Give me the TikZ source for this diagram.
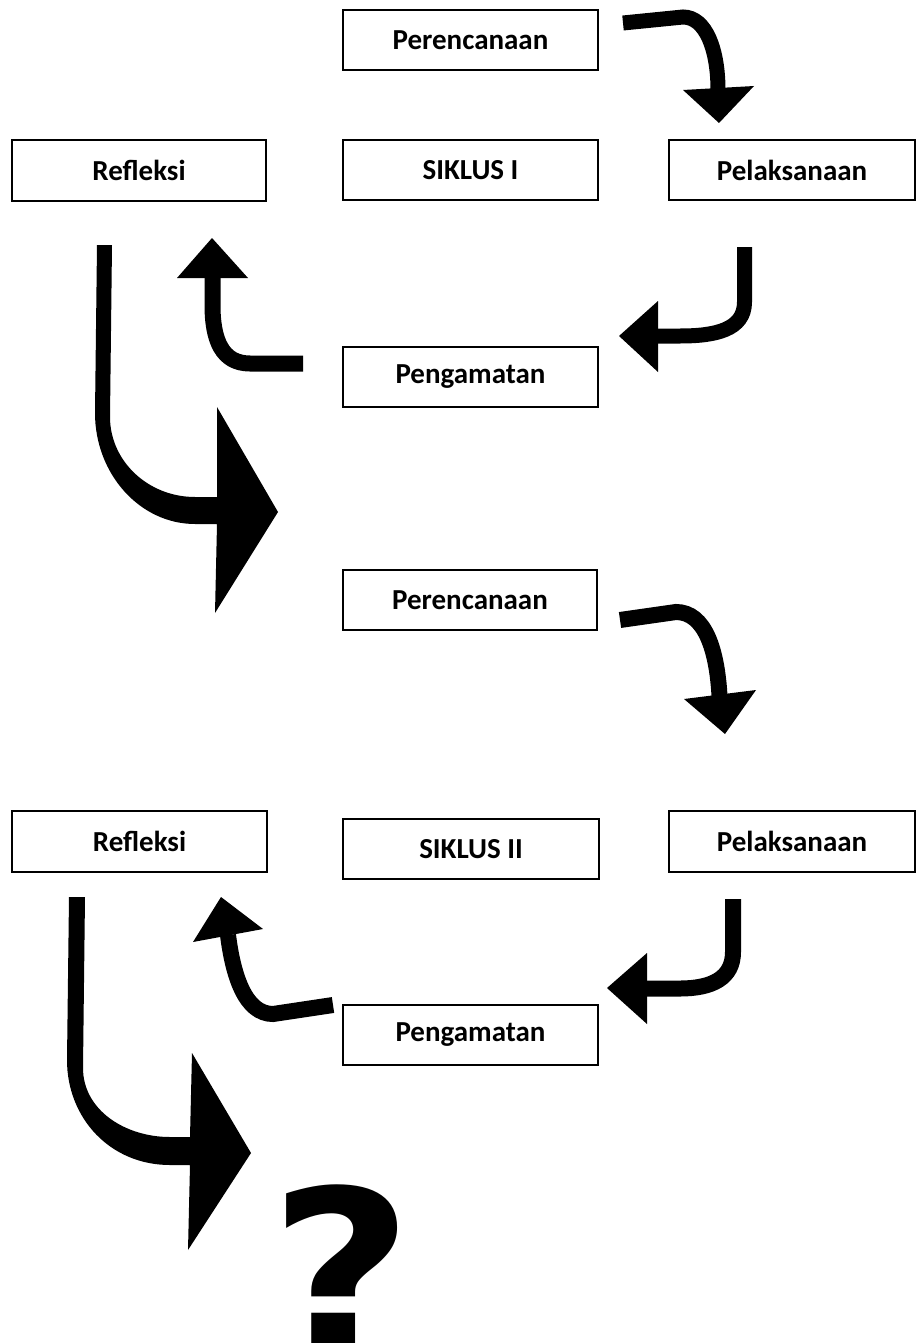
\documentclass[tikz,border=0pt]{standalone}
\usepackage{fontspec}
\usepackage{graphicx}
\setmainfont{Carlito}
\newfontfamily\qfont{DejaVu Sans}
\begin{document}
\begin{tikzpicture}[x=1pt,y=-1pt,
  box/.style={draw=black,line width=1.8pt,fill=white,rectangle,inner sep=0pt,
    minimum width=255pt,minimum height=60pt,font=\fontsize{29}{33}\selectfont\bfseries},
  shaft/.style={line width=15pt,black},
  head/.style={fill=black,draw=none}]
\useasboundingbox (0,0) rectangle (916,1343);
\clip (0,0) rectangle (916,1343);
\fill[white] (0,0) rectangle (916,1343);

% boxes, cycle I
\node[box] (per1) at (470.5,40) {Perencanaan};
\node[box,minimum width=254pt,minimum height=61pt] (ref1) at (139,170.5) {Refleksi};
\node[box] (sik1) at (470.5,170) {SIKLUS I};
\node[box,minimum width=246pt] (pel1) at (792,170) {Pelaksanaan};
\node[box] (pen1) at (470.5,377) {Pengamatan};
% boxes, cycle II
\node[box,minimum width=254pt] (per2) at (470,600) {Perencanaan};
\node[box,minimum height=61pt] (ref2) at (139.5,841.5) {Refleksi};
\node[box,minimum width=256pt] (sik2) at (471,849) {SIKLUS II};
\node[box,minimum width=246pt,minimum height=61pt] (pel2) at (792,841.5) {Pelaksanaan};
\node[box] (pen2) at (470.5,1035) {Pengamatan};

% arrow Perencanaan -> Pelaksanaan (I)
\draw[shaft] (623,23) -- (683,17) .. controls (706,17) and (718,50) .. (718,90);
\fill[head] (683,90) -- (754,86) -- (719,123) -- cycle;

% arrow Pelaksanaan -> Pengamatan (I)
\draw[shaft] (744.5,247) -- (744.5,302) .. controls (744.5,330) and (715,336) .. (680,336) -- (657,336);
\fill[head] (658,301) -- (658,372) -- (619,336) -- cycle;

% arrow Pengamatan -> Refleksi (I)
\draw[shaft,line width=16pt] (303,363.5) -- (250,363.5) .. controls (222,363.5) and (212.5,340) .. (212.5,305) -- (212.5,277);
\fill[head] (177,278) -- (248,278) -- (212,238) -- cycle;

% big arrow Refleksi (I) -> cycle II
\fill[black] (97,245) -- (95,413) .. controls (95,474) and (140,524) .. (195,524) -- (217,524)
  -- (215,613) -- (278,512) -- (217,407) -- (217,497) -- (195,497)
  .. controls (148,497) and (110,461) .. (110,417) -- (112,245) -- cycle;

% arrow Perencanaan -> Pelaksanaan (II)
\draw[shaft,line width=16pt] (620,620) -- (676,612) .. controls (705,612) and (717,650) .. (719.5,696);
\fill[head] (684,699) -- (756,690) -- (725,734) -- cycle;

% arrow Pelaksanaan -> Pengamatan (II)
\draw[shaft,line width=16pt] (733,899) -- (733,952) .. controls (733,978) and (712,988.5) .. (680,988.5) -- (646,988.5);
\fill[head] (647,953) -- (647,1024) -- (607,988) -- cycle;

% arrow Pengamatan -> Refleksi (II)
\draw[shaft,line width=16pt] (333,1005) -- (273,1014) .. controls (245,1014) and (233,975) .. (228,935);
\fill[head] (193,942) -- (263,929) -- (221,897) -- cycle;

% big arrow Refleksi (II) -> ?
\fill[black] (69,897) -- (67,1060) .. controls (67,1118) and (110,1165) .. (170,1165) -- (190,1165)
  -- (188,1250) -- (251,1153) -- (192,1053) -- (190,1137) -- (170,1137)
  .. controls (125,1137) and (83,1110) .. (83,1068) -- (85,897) -- cycle;

% question mark
\node[anchor=base west,inner sep=0pt,font=\qfont\bfseries\fontsize{226}{226}\selectfont] (q) at (269,1352) {\scalebox{1.1}[1]{?}};
\end{tikzpicture}
\end{document}
